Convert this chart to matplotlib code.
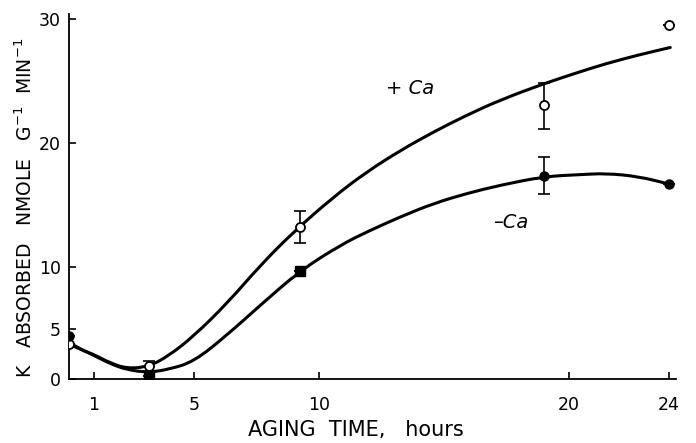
import numpy as np
import matplotlib
matplotlib.use("Agg")
import matplotlib.pyplot as plt
from matplotlib.path import Path
from matplotlib.patches import PathPatch

# measured points (aging time in hours)
hours = [0, 3.2, 9.25, 19.0, 24.0]
plus_ca = [3.8, 2.0, 13.25, 23.1, 29.5]
plus_err_lo = [0.0, 0.4, 1.3, 2.0, 0.0]
plus_err_hi = [0.0, 0.4, 1.3, 1.7, 0.0]
minus_ca = [4.4, 1.2, 9.7, 17.3, 16.7]
minus_err_lo = [0.0, 0.0, 0.0, 1.45, 0.0]
minus_err_hi = [0.0, 0.0, 0.0, 1.55, 0.0]
minus_markers = ['o', 's', 's', 'o', 'o']

# hand-drawn curves
plus_curve_h = [0, 0.5, 1.0, 1.6, 2.33, 3.2, 4.0, 5.0, 6.33, 7.67, 9.0,
                10.6, 11.94, 13.27, 14.6, 15.94, 17.27, 19.03, 20.47,
                21.5, 22.8, 24.07]
plus_curve_v = [3.8, 3.3, 2.95, 2.3, 1.8, 1.98, 2.85, 4.44, 7.07, 10.16,
                12.85, 15.67, 17.7, 19.4, 20.9, 22.26, 23.47, 24.8, 25.75,
                26.4, 27.1, 27.7]
minus_curve_h = [0, 0.5, 1.0, 1.6, 2.33, 3.2, 4.0, 5.0, 6.33, 7.67, 9.25,
                 10.87, 11.94, 13.27, 14.6, 15.94, 17.27, 19.03, 20.47,
                 21.5, 22.8, 24.0]
minus_curve_v = [3.9, 3.35, 2.87, 2.25, 1.7, 1.5, 1.75, 2.37, 4.52, 6.94,
                 9.7, 11.77, 12.85, 14.05, 15.13, 15.94, 16.6, 17.3, 17.45,
                 17.55, 17.3, 16.7]

xticks = [1, 5, 10, 20, 24]
ytick_vals = [0.97, 5, 10, 20, 30]
ytick_labels = ['0', '5', '10', '20', '30']


def smooth_curve(ax, xs, ys):
    """draw a smooth line through the read points using quadratic beziers"""
    verts = [(xs[0], ys[0])]
    codes = [Path.MOVETO]
    for i in range(1, len(xs) - 1):
        verts.append((xs[i], ys[i]))
        verts.append(((xs[i] + xs[i + 1]) / 2, (ys[i] + ys[i + 1]) / 2))
        codes += [Path.CURVE3, Path.CURVE3]
    verts.append((xs[-1], ys[-1]))
    codes.append(Path.LINETO)
    patch = PathPatch(Path(verts, codes), facecolor='none',
                      edgecolor='black', lw=2.2, capstyle='round', zorder=2)
    ax.add_patch(patch)


plt.rcParams['font.family'] = ['DejaVu Sans']

fig = plt.figure(figsize=(6.96, 4.43), dpi=100)
ax = fig.add_axes([69 / 696, 1 - 379 / 443, 607 / 696, 365 / 443])

smooth_curve(ax, plus_curve_h, plus_curve_v)
smooth_curve(ax, minus_curve_h, minus_curve_v)

# error bars
ax.errorbar(hours, plus_ca, yerr=[plus_err_lo, plus_err_hi], fmt='none',
            ecolor='black', elinewidth=1.2, capsize=4, capthick=1.2,
            zorder=3)
ax.errorbar(hours, minus_ca, yerr=[minus_err_lo, minus_err_hi], fmt='none',
            ecolor='black', elinewidth=1.2, capsize=4, capthick=1.2,
            zorder=3)

# markers
ax.plot(hours, plus_ca, 'o', ms=6.5, mfc='white', mec='black', mew=1.3,
        zorder=4)
for h, v, m in zip(hours, minus_ca, minus_markers):
    ax.plot(h, v, m, ms=6.5 if m == 'o' else 7, color='black', zorder=4)

ax.text(13.67, 24.4, '+ Ca', fontsize=14, style='italic', ha='center',
        va='center')
ax.text(17.67, 13.6, '\u2013Ca', fontsize=14, style='italic', ha='center',
        va='center')

ax.set_xlim(0, 24.3)
ax.set_ylim(0.97, 30.4)
ax.set_xticks(xticks)
ax.set_xticklabels([str(t) for t in xticks])
ax.set_yticks(ytick_vals)
ax.set_yticklabels(ytick_labels)
ax.tick_params(direction='in', length=5, width=1.2, labelsize=12.5)
ax.tick_params(axis='x', pad=12)
ax.tick_params(axis='y', pad=6)
for s in ['top', 'right']:
    ax.spines[s].set_visible(False)
for s in ['left', 'bottom']:
    ax.spines[s].set_linewidth(1.3)

fig.text(25 / 696, 1 - 208 / 443,
         'K   ABSORBED   NMOLE   G$^{-1}$  MIN$^{-1}$',
         rotation=90, fontsize=13.5, ha='center', va='center')
fig.text(356 / 696, 1 - 430 / 443, 'AGING  TIME,   hours', fontsize=15,
         ha='center', va='center')

fig.savefig('out.png', dpi=100)
